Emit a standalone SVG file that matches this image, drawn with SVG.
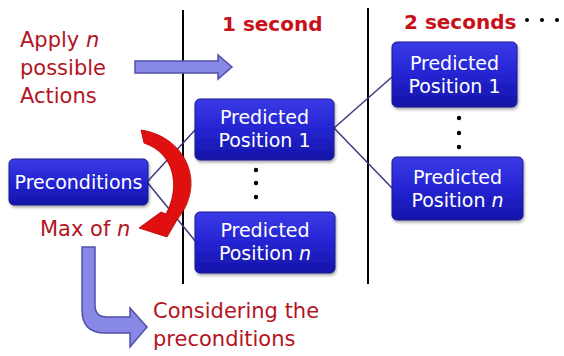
<svg xmlns="http://www.w3.org/2000/svg" width="564" height="356" viewBox="0 0 564 356">
<defs>
<linearGradient id="nodeGrad" x1="0" y1="0" x2="0" y2="1">
<stop offset="0" stop-color="#3a3ae6"/>
<stop offset="0.5" stop-color="#2424d2"/>
<stop offset="1" stop-color="#1414a8"/>
</linearGradient>
<filter id="shadow" x="-10%" y="-10%" width="130%" height="140%">
<feDropShadow dx="1" dy="2" stdDeviation="1.5" flood-color="#000" flood-opacity="0.35"/>
</filter>
</defs>
<style>
.node rect{fill:url(#nodeGrad);stroke:#1a1a90;stroke-width:1;filter:url(#shadow)}
.nt{font-family:"DejaVu Sans",sans-serif;font-size:19px;fill:#fff;text-anchor:middle}
.red{font-family:"DejaVu Sans",sans-serif;font-size:21px;fill:#b3141e}
.hdr{font-family:"DejaVu Sans",sans-serif;font-size:20px;fill:#c8101a;font-weight:bold}
.conn{stroke:#3a3a80;stroke-width:1.5;fill:none}
.vline{stroke:#000;stroke-width:2}
.dot{fill:#000}
.barrow{fill:#8888e6;stroke:#5050a8;stroke-width:1.5}
</style>
<rect width="564" height="356" fill="#fff"/>
<line class="vline" x1="183" y1="10" x2="183" y2="284"/>
<line class="vline" x1="368" y1="8" x2="368" y2="284"/>
<text class="hdr" x="222" y="31">1 second</text>
<text class="hdr" x="404" y="29">2 seconds</text>
<circle class="dot" cx="527" cy="20" r="2"/>
<circle class="dot" cx="542" cy="20" r="2"/>
<circle class="dot" cx="557" cy="20" r="2"/>
<text class="red" x="20" y="47">Apply <tspan font-style="italic">n</tspan></text>
<text class="red" x="20" y="75">possible</text>
<text class="red" x="20" y="103">Actions</text>
<path class="barrow" d="M135,61 L218,61 L218,55 L232,67 L218,79 L218,73 L135,73 Z"/>
<g id="connectors">
<line class="conn" x1="147" y1="182" x2="196" y2="129"/>
<line class="conn" x1="147" y1="182" x2="196" y2="242"/>
<line class="conn" x1="334" y1="128" x2="392" y2="77"/>
<line class="conn" x1="334" y1="128" x2="392" y2="188"/>
</g>
<g id="preconditions" class="node">
<rect x="9" y="159" width="139" height="46" rx="5"/>
<text class="nt" x="78.5" y="189">Preconditions</text>
</g>
<g id="pp1-1" class="node">
<rect x="195" y="99" width="139" height="61" rx="5"/>
<text class="nt" x="264.5" y="124">Predicted</text>
<text class="nt" x="264.5" y="147">Position 1</text>
</g>
<g id="ppn-1" class="node">
<rect x="195" y="212" width="140" height="61" rx="5"/>
<text class="nt" x="265" y="237">Predicted</text>
<text class="nt" x="265" y="260">Position <tspan font-style="italic">n</tspan></text>
</g>
<g id="pp1-2" class="node">
<rect x="392" y="42" width="125" height="65" rx="5"/>
<text class="nt" x="454.5" y="70">Predicted</text>
<text class="nt" x="454.5" y="93">Position 1</text>
</g>
<g id="ppn-2" class="node">
<rect x="392" y="157" width="131" height="63" rx="5"/>
<text class="nt" x="457.5" y="184">Predicted</text>
<text class="nt" x="457.5" y="207">Position <tspan font-style="italic">n</tspan></text>
</g>
<circle class="dot" cx="256" cy="170" r="2.2"/>
<circle class="dot" cx="256" cy="183" r="2.2"/>
<circle class="dot" cx="256" cy="197" r="2.2"/>
<circle class="dot" cx="459" cy="118" r="2.2"/>
<circle class="dot" cx="459" cy="133" r="2.2"/>
<circle class="dot" cx="459" cy="147" r="2.2"/>
<path fill="#e01010" stroke="#b00000" stroke-width="0.8" d="M141,130 C184,136 208,182 177,220 L167,237 L139,228 L161,212 L166,214 C181,186 174,153 144,143 Z"/>
<text class="red" x="40" y="236">Max of <tspan font-style="italic">n</tspan></text>
<path class="barrow" d="M82,247 L95,247 L95,305 Q95,317 107,317 L130,317 L130,308 L147,327 L130,347 L130,333 L105,333 Q82,333 82,310 Z"/>
<text class="red" x="153" y="318">Considering the</text>
<text class="red" x="153" y="346">preconditions</text>
</svg>
